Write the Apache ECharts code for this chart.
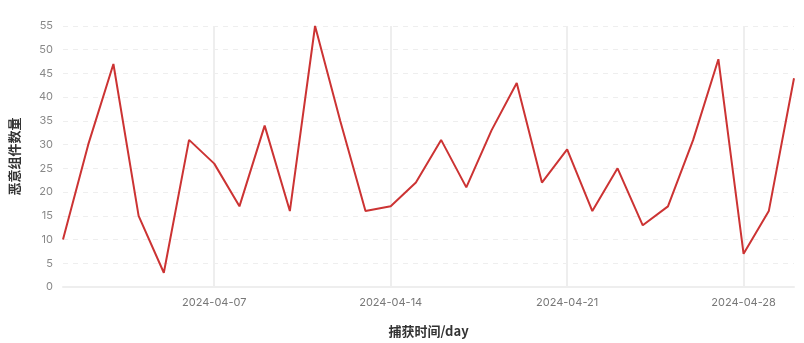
<!DOCTYPE html>
<html>
<head>
<meta charset="utf-8">
<script src="https://cdn.jsdelivr.net/npm/echarts@6/dist/echarts.min.js"></script>
<style>html,body{margin:0;padding:0;background:#fff;}#c{width:804px;height:343px;}</style>
</head>
<body>
<div id="c"></div>
<script>
var dates = ['2024-04-01','2024-04-02','2024-04-03','2024-04-04','2024-04-05','2024-04-06','2024-04-07','2024-04-08','2024-04-09','2024-04-10','2024-04-11','2024-04-12','2024-04-13','2024-04-14','2024-04-15','2024-04-16','2024-04-17','2024-04-18','2024-04-19','2024-04-20','2024-04-21','2024-04-22','2024-04-23','2024-04-24','2024-04-25','2024-04-26','2024-04-27','2024-04-28','2024-04-29','2024-04-30'];
var counts = [10,30,47,15,3,31,26,17,34,16,55,35,16,17,22,31,21,33,43,22,29,16,25,13,17,31,48,7,16,44];
var weekLabels = ['2024-04-07','2024-04-14','2024-04-21','2024-04-28'];
var yAxisName = '恶意组件数量';
var xAxisName = '捕获时间/day';

var chart = echarts.init(document.getElementById('c'), null, {renderer:'canvas'});
function isWeek(i, v){ return weekLabels.indexOf(v) >= 0; }
chart.setOption({
  animation: false,
  grid: {left: 60, right: 10, top: 26, bottom: 50},
  xAxis: {
    type: 'category',
    data: dates,
    boundaryGap: false,
    name: xAxisName,
    nameLocation: 'middle',
    nameGap: 38,
    nameTextStyle: {color: '#333', fontSize: 13, fontWeight: 'bold', fontFamily: 'Noto Sans CJK SC'},
    axisLine: {lineStyle: {color: '#eeeeee', width: 2}},
    axisTick: {show: false},
    axisLabel: {interval: isWeek, color: '#777', fontSize: 11, margin: 10, fontFamily: 'Inter'},
    splitLine: {show: true, interval: isWeek, lineStyle: {color: '#eeeeee', width: 2}}
  },
  yAxis: {
    type: 'value',
    min: 0, max: 55, interval: 5,
    name: yAxisName,
    nameLocation: 'middle',
    nameGap: 42,
    nameRotate: 90,
    nameTextStyle: {color: '#333', fontSize: 13, fontWeight: 'bold', fontFamily: 'Noto Sans CJK SC'},
    axisLine: {show: false},
    axisTick: {show: false},
    axisLabel: {color: '#888', fontSize: 11, margin: 10, fontFamily: 'Inter'},
    splitLine: {lineStyle: {color: '#eeeeee', type: [5, 5], width: 1}}
  },
  series: [{
    type: 'line',
    data: counts,
    showSymbol: false,
    symbol: 'none',
    lineStyle: {color: '#cc3333', width: 2},
    itemStyle: {color: '#cc3333'}
  }]
});
</script>
</body>
</html>
